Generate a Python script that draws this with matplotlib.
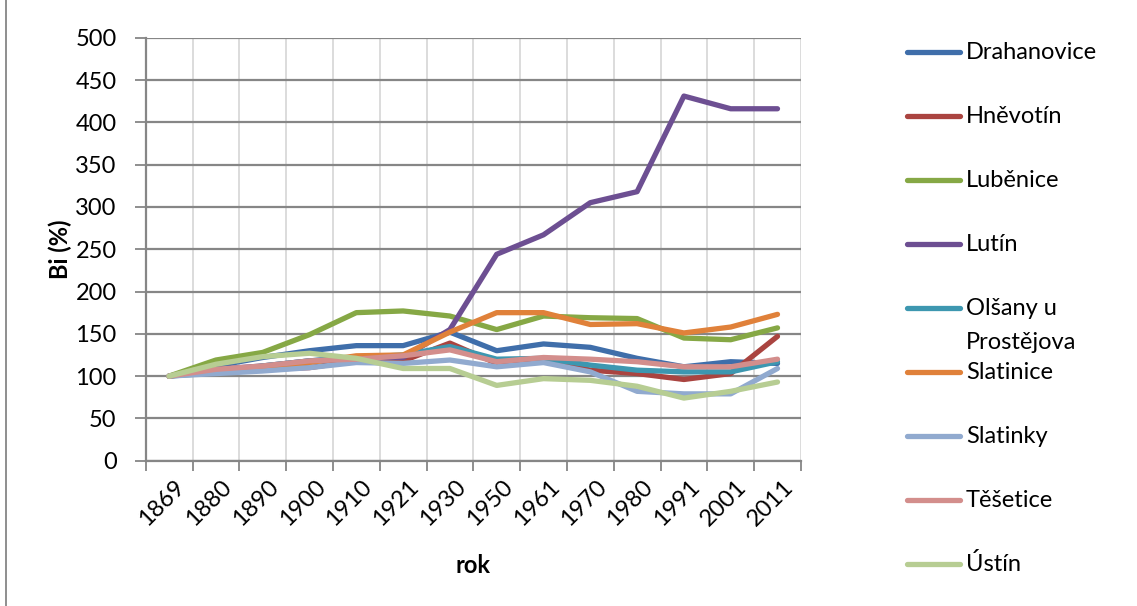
import matplotlib
matplotlib.use('Agg')
import matplotlib.pyplot as plt
from matplotlib.lines import Line2D
from matplotlib.transforms import ScaledTranslation
import numpy as np

# Data (index, 1869 = 100)
roky = ['1869', '1880', '1890', '1900', '1910', '1921', '1930',
        '1950', '1961', '1970', '1980', '1991', '2001', '2011']

drahanovice = [100, 112, 122, 130, 136, 136, 152, 130, 138, 134, 121, 111, 117, 115]
hnevotin = [100, 106, 108, 110, 118, 118, 139, 115, 120, 107, 103, 96, 103, 147]
lubenice = [100, 119, 128, 149, 175, 177, 171, 155, 171, 169, 168, 145, 143, 157]
lutin = [100, 108, 112, 118, 122, 122, 155, 244, 267, 305, 318, 431, 416, 416]
olsany = [100, 104, 112, 118, 122, 125, 135, 120, 121, 113, 107, 105, 105, 117]
slatinice = [100, 107, 110, 116, 124, 125, 152, 175, 175, 161, 162, 151, 158, 173]
slatinky = [100, 103, 106, 110, 116, 115, 119, 111, 116, 105, 82, 79, 79, 109]
tesetice = [100, 108, 112, 118, 120, 124, 131, 117, 122, 120, 117, 111, 111, 120]
ustin = [100, 114, 123, 127, 121, 109, 109, 89, 97, 95, 88, 74, 82, 93]

nazvy = ['Drahanovice', 'Hněvotín', 'Luběnice', 'Lutín', 'Olšany u Prostějova',
         'Slatinice', 'Slatinky', 'Těšetice', 'Ústín']
legenda_texty = ['Drahanovice', 'Hněvotín', 'Luběnice', 'Lutín', 'Olšany u\nProstějova',
                 'Slatinice', 'Slatinky', 'Těšetice', 'Ústín']
rady = [drahanovice, hnevotin, lubenice, lutin, olsany, slatinice, slatinky, tesetice, ustin]

barvy = ['#3F6EAA', '#AA4440', '#86A845', '#6D4F92', '#3D97B0',
         '#E0813A', '#91AACF', '#D38E8C', '#B7CD93']

SEDA = '#868686'
MRIZKA_SVISLA = '#D9D9D9'

plt.rcParams['font.family'] = ['Lato', 'DejaVu Sans']

W, H = 1137, 606
fig = plt.figure(figsize=(W / 100, H / 100), dpi=100)
ax = fig.add_axes([145.7 / W, 1 - 460.7 / H, (800.9 - 145.7) / W, (460.7 - 37.7) / H])

x = np.arange(len(roky))
for rada, barva, nazev in zip(rady, barvy, nazvy):
    ax.plot(x, rada, color=barva, linewidth=3.8, solid_capstyle='round',
            solid_joinstyle='round', label=nazev, zorder=3)

ax.set_xlim(-0.5, len(roky) - 0.5)
ax.set_ylim(0, 500)

# osa x - kategorie mezi znackami
ax.set_xticks(x)
ax.set_xticklabels(roky, rotation=45, ha='right', va='top', rotation_mode='anchor', fontsize=17)
ax.set_xticks(np.arange(-0.5, len(roky)), minor=True)
ax.tick_params(axis='x', which='major', length=0, pad=11)
ax.tick_params(axis='x', which='minor', length=7, width=1.3, color=SEDA, direction='out')
ax.grid(axis='x', which='minor', color=MRIZKA_SVISLA, linewidth=1.3, zorder=0)
posun = ScaledTranslation(5 / 100, 0, fig.dpi_scale_trans)
for lbl in ax.get_xticklabels():
    lbl.set_transform(lbl.get_transform() + posun)

# osa y
ax.set_yticks(np.arange(0, 501, 50))
ax.tick_params(axis='y', length=8, width=1.3, color=SEDA, direction='out', pad=13, labelsize=17)
ax.grid(axis='y', which='major', color=SEDA, linewidth=1.6, zorder=1)
ax.set_axisbelow(True)

for s in ['top', 'right']:
    ax.spines[s].set_visible(False)
for s in ['left', 'bottom']:
    ax.spines[s].set_color(SEDA)
    ax.spines[s].set_linewidth(1.6)

ax.set_xlabel('rok', fontsize=17, fontweight='bold')
ax.xaxis.set_label_coords(0.5, -0.22)
ax.set_ylabel('Bi (%)', fontsize=17, fontweight='bold')
ax.yaxis.set_label_coords(-0.113, 0.5)

# legenda vpravo - rucne rozlozena jako v Excelu
y0 = 52.3
for i, (text, barva) in enumerate(zip(legenda_texty, barvy)):
    yy = y0 + i * 64
    fig.add_artist(Line2D([906.7 / W, 960 / W], [1 - yy / H, 1 - yy / H], color=barva,
                          linewidth=3.8, solid_capstyle='round'))
    for j, radek in enumerate(text.split('\n')):
        fig.text(966 / W, 1 - (yy + j * 34) / H, radek, fontsize=17, va='center', ha='left')

# okraj grafu vlevo
fig.add_artist(Line2D([6 / W, 6 / W], [0, 1], color=SEDA, linewidth=1.3))

fig.savefig('out.png', dpi=100)
